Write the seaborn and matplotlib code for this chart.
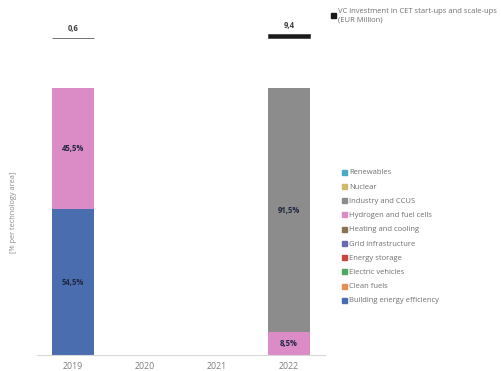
import matplotlib
matplotlib.use("Agg")
import matplotlib.pyplot as plt
import seaborn as sns
import pandas as pd
import numpy as np
from matplotlib.lines import Line2D

sns.set_theme(style="white")
plt.rcParams['font.family'] = ['Open Sans', 'DejaVu Sans']

years = ["2019", "2020", "2021", "2022"]
techs = ["Building energy efficiency", "Clean fuels", "Electric vehicles", "Energy storage",
         "Grid infrastructure", "Heating and cooling", "Hydrogen and fuel cells",
         "Industry and CCUS", "Nuclear", "Renewables"]
colors = ["#4a6db0", "#e58f55", "#4fa860", "#c9443f", "#6a6aae", "#8a7352",
          "#db8bc6", "#8c8c8c", "#cdbb6a", "#4aabc9"]
shares = {
    "Building energy efficiency": [54.5, 0, 0, 0],
    "Clean fuels": [0, 0, 0, 0],
    "Electric vehicles": [0, 0, 0, 0],
    "Energy storage": [0, 0, 0, 0],
    "Grid infrastructure": [0, 0, 0, 0],
    "Heating and cooling": [0, 0, 0, 0],
    "Hydrogen and fuel cells": [45.5, 0, 0, 8.5],
    "Industry and CCUS": [0, 0, 0, 91.5],
    "Nuclear": [0, 0, 0, 0],
    "Renewables": [0, 0, 0, 0],
}
vc_invest = [0.6, np.nan, np.nan, 9.4]
vc_labels = ["0,6", "", "", "9,4"]

W, H = 501, 371
fig = plt.figure(figsize=(W / 100, H / 100), dpi=100)
ax = fig.add_axes([37 / W, (H - 355) / H, 288 / W, 267 / H])
ax2 = fig.add_axes([37 / W, (H - 39) / H, 288 / W, 30 / H])

df = pd.DataFrame(shares, index=years)
cum = df.cumsum(axis=1)
bw = 0.57
for t, c in reversed(list(zip(techs, colors))):
    sns.barplot(x=years, y=cum[t].values, color=c, width=bw, ax=ax,
                linewidth=0, saturation=1, order=years)

# labels inside segments
for i, yr in enumerate(years):
    base = 0
    for t in techs:
        v = df.loc[yr, t]
        if v > 0:
            ax.text(i, base + v / 2, f"{v:.1f}%".replace(".", ","), ha="center", va="center",
                    fontsize=5.5, fontweight="bold", color="#1f2740")
        base += v

ax.set_xlim(-0.5, 3.5)
ax.set_ylim(0, 100)
ax.set_yticks([])
ax.tick_params(axis="x", length=0, labelsize=6.3, labelcolor="#7f7f7f", pad=5)
for s in ["top", "right", "left"]:
    ax.spines[s].set_visible(False)
ax.spines["bottom"].set_color("#d9d9d9")
ax.spines["bottom"].set_linewidth(0.8)
ax.set_ylabel("[% per technology area]", fontsize=5.3, color="#8a8a8a")
ax.yaxis.set_label_coords(-20 / 288, 0.535)
ax.set_xlabel("")

# VC investment thin bars
sns.barplot(x=years, y=vc_invest, color="#1a1a1a", width=bw, ax=ax2, saturation=1,
            edgecolor="#3a3a3a", linewidth=0.5, order=years)
ax2.set_xlim(-0.5, 3.5)
ax2.set_ylim(-3, 77)
ax2.axis("off")
for i, (v, lab) in enumerate(zip(vc_invest, vc_labels)):
    if lab:
        ax2.annotate(lab, (i, v), xytext=(0, 3), textcoords="offset points", ha="center",
                     va="bottom", fontsize=5.5, color="#404040", fontweight="bold",
                     annotation_clip=False)

# legends
h_vc = [Line2D([], [], marker="s", linestyle="", color="#1a1a1a", markersize=3.6)]
fig.legend(h_vc, ["VC investment in CET start-ups and scale-ups\n(EUR Million)"],
           loc="upper left", bbox_to_anchor=(327 / W, 1 - 5 / H), frameon=False,
           fontsize=5.5, labelcolor="#6f6f6f", handletextpad=0.25, handlelength=0.8,
           borderaxespad=0)
handles = [Line2D([], [], marker="s", linestyle="", color=c, markersize=3.6) for c in colors]
fig.legend(handles[::-1], techs[::-1], loc="upper left", bbox_to_anchor=(338 / W, 1 - 166 / H),
           frameon=False, fontsize=5.5, labelcolor="#6f6f6f", handletextpad=0.25,
           handlelength=0.8, labelspacing=0.9, borderaxespad=0)

fig.savefig("out.png", dpi=100)
